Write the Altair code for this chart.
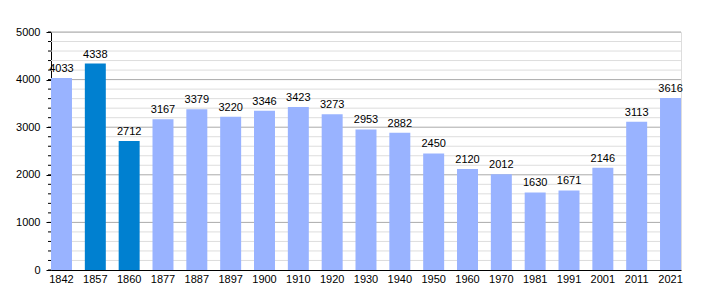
import altair as alt
import pandas as pd

years = ["1842", "1857", "1860", "1877", "1887", "1897", "1900", "1910", "1920", "1930",
         "1940", "1950", "1960", "1970", "1981", "1991", "2001", "2011", "2021"]
population = [4033, 4338, 2712, 3167, 3379, 3220, 3346, 3423, 3273, 2953,
              2882, 2450, 2120, 2012, 1630, 1671, 2146, 3113, 3616]
highlight = ["1857", "1860"]

df = pd.DataFrame({"year": years, "pop": population})
df["hl"] = df["year"].isin(highlight)

minor_vals = [v for v in range(200, 5001, 200) if v % 1000 != 0]
minor_df = pd.DataFrame({"v": minor_vals})
major_df = pd.DataFrame({"v": [1000, 2000, 3000, 4000, 5000]})
tick_df = pd.DataFrame({"v": list(range(0, 5001, 200))})

FONT = "Liberation Sans"
yscale = alt.Scale(domain=[0, 5000], nice=False, zero=True)
yaxis = alt.Axis(title=None, values=[0, 1000, 2000, 3000, 4000, 5000], format="d",
                 grid=False, tickSize=5, tickColor="black",
                 domainColor="black", labelColor="black",
                 labelPadding=6, labelFont=FONT, labelFontSize=11)

minor_grid = alt.Chart(minor_df).mark_rule(color="#dddddd", strokeWidth=1).encode(
    y=alt.Y("v:Q", scale=yscale, axis=yaxis),
    x=alt.value(0), x2=alt.value(630))

major_grid = alt.Chart(major_df).mark_rule(color="#aaaaaa", strokeWidth=1).encode(
    y=alt.Y("v:Q", scale=yscale, axis=yaxis),
    x=alt.value(0), x2=alt.value(630))

minor_ticks = alt.Chart(tick_df).mark_rule(color="black", strokeWidth=1).encode(
    y=alt.Y("v:Q", scale=yscale, axis=yaxis),
    x=alt.value(-3), x2=alt.value(0))

xenc = alt.X("year:N", sort=years,
             scale=alt.Scale(paddingInner=0.38, paddingOuter=0),
             axis=alt.Axis(title=None, labelAngle=0, ticks=False, labelPadding=3,
                           domainColor="black", labelColor="black",
                           labelFont=FONT, labelFontSize=11))

bars = alt.Chart(df).mark_bar().encode(
    x=xenc,
    y=alt.Y("pop:Q", scale=yscale, axis=yaxis),
    color=alt.Color("hl:N", scale=alt.Scale(domain=[False, True],
                                            range=["#99b3ff", "#0080d0"]),
                    legend=None))

labels = alt.Chart(df).mark_text(baseline="bottom", dy=-4, font=FONT,
                                 fontSize=11, color="black").encode(
    x=alt.X("year:N", sort=years), y=alt.Y("pop:Q", scale=yscale, axis=yaxis),
    text=alt.Text("pop:Q", format="d"))

chart = alt.layer(minor_grid, major_grid, minor_ticks, bars, labels).properties(
    width=630, height=238,
    autosize=alt.AutoSizeParams(type="none"),
    padding={"left": 51, "top": 32, "right": 29, "bottom": 30},
).configure_view(stroke=None).configure(background="white")

chart.save("out.html", embed_options={"renderer": "svg", "actions": False})
